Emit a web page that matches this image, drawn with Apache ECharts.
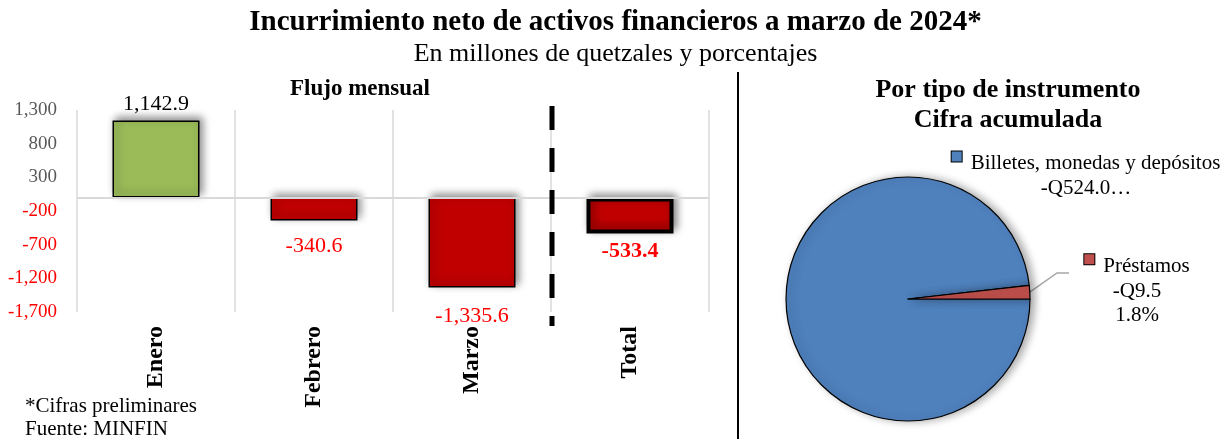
<!DOCTYPE html>
<html><head><meta charset="utf-8">
<script src="https://cdn.jsdelivr.net/npm/echarts@6/dist/echarts.min.js"></script>
<style>html,body{margin:0;padding:0;background:#fff}#c{width:1231px;height:439px}</style>
</head><body><div id="c"></div>
<script>
// ---- data ----
const categories = ['Enero', 'Febrero', 'Marzo', 'Total'];
const flows = [1142.9, -340.6, -1335.6, -533.4];
const yMin = -1700, yMax = 1300, yStep = 500;
const pieNames = ['Billetes, monedas y depósitos', 'Préstamos'];
const pieValues = [-524.0, -9.5];
const pieValueText = ['-Q524.0…', '-Q9.5'];

// ---- styles ----
const SERIF = '"Liberation Serif", "Times New Roman", serif';
const labelGap = [5, 15, 18, 7];
const borderW = [1.5, 1.5, 1.5, 4];
const fmt = v => v.toLocaleString('en-US', {minimumFractionDigits: 1, maximumFractionDigits: 1});
const fmtTick = v => v.toLocaleString('en-US');

const chart = echarts.init(document.getElementById('c'));
const shadow = {shadowBlur: 8, shadowColor: 'rgba(0,0,0,0.45)', shadowOffsetX: 3, shadowOffsetY: -3};

chart.setOption({
  animation: false,
  title: [
    {text: 'Incurrimiento neto de activos financieros a marzo de 2024*', left: 'center', top: 3,
     textStyle: {fontFamily: SERIF, fontSize: 29, fontWeight: 'bold', color: '#000'}},
    {text: 'En millones de quetzales y porcentajes', left: 'center', top: 36,
     textStyle: {fontFamily: SERIF, fontSize: 26, fontWeight: 'normal', color: '#000'}},
    {text: 'Flujo mensual', left: 355, textAlign: 'center', top: 73,
     textStyle: {fontFamily: SERIF, fontSize: 23, fontWeight: 'bold', color: '#000'}},
    {text: 'Por tipo de instrumento\nCifra acumulada', left: 1003, textAlign: 'center', top: 70,
     textStyle: {fontFamily: SERIF, fontSize: 26, fontWeight: 'bold', color: '#000', lineHeight: 30}},
    {text: '*Cifras preliminares\nFuente: MINFIN', left: 20, top: 390,
     textStyle: {fontFamily: SERIF, fontSize: 21, fontWeight: 'normal', color: '#000', lineHeight: 23}}
  ],
  grid: {left: 77, right: 522, top: 110, bottom: 127, containLabel: false},
  xAxis: {
    type: 'category', data: categories,
    axisLine: {show: false}, axisTick: {show: false},
    splitLine: {show: true, lineStyle: {color: '#D9D9D9', width: 1.5}},
    axisLabel: {rotate: 90, margin: 14, fontFamily: SERIF, fontSize: 24, fontWeight: 'bold', color: '#000'}
  },
  yAxis: {
    type: 'value', min: yMin, max: yMax, interval: yStep,
    axisLine: {show: false}, axisTick: {show: false}, splitLine: {show: false},
    axisLabel: {margin: 20, fontFamily: SERIF, fontSize: 19, formatter: fmtTick,
      color: v => (v < 0 ? '#FF0000' : '#595959')}
  },
  series: [
    {
      type: 'bar', barWidth: 87,
      data: flows.map((v, i) => ({
        value: v,
        itemStyle: Object.assign({color: v >= 0 ? '#9BBB59' : '#C00000', borderColor: '#000', borderWidth: borderW[i]}, shadow),
        label: {
          show: true, position: v >= 0 ? 'top' : 'bottom', distance: labelGap[i],
          formatter: fmt(v), fontFamily: SERIF, fontSize: 22,
          fontWeight: categories[i] === 'Total' ? 'bold' : 'normal',
          color: v >= 0 ? '#000' : '#FF0000'
        }
      })),
      markLine: {
        silent: true, symbol: 'none', label: {show: false},
        lineStyle: {color: '#D9D9D9', width: 2, type: 'solid'},
        data: [{yAxis: 0}]
      },
      z: 3
    },
    {
      type: 'pie', center: [908, 299], radius: 122, startAngle: 0, clockwise: true,
      itemStyle: {borderColor: '#000', borderWidth: 1.2, shadowBlur: 9, shadowColor: 'rgba(0,0,0,0.35)', shadowOffsetX: 4, shadowOffsetY: 0},
      data: pieNames.map((n, i) => ({
        name: n, value: Math.abs(pieValues[i]),
        itemStyle: {color: i === 0 ? '#4F81BD' : '#C0504D'},
        labelLine: {show: i === 1, length: 20, length2: 10, lineStyle: {color: '#A6A6A6', width: 1.5}}
      })),
      label: {
        show: true, position: 'outside', fontFamily: SERIF, fontSize: 21, color: '#000', lineHeight: 24.5, align: 'center',
        formatter: p => {
          const key = p.dataIndex === 0 ? 'sqb' : 'sqr';
          const lines = ['{' + key + '|}{g| }' + p.name, pieValueText[p.dataIndex]];
          if (p.dataIndex === 1) lines.push(p.percent.toFixed(1) + '%');
          return lines.join('\n');
        },
        rich: {
          sqb: {width: 10, height: 10, backgroundColor: '#4F81BD', borderColor: '#000', borderWidth: 1, verticalAlign: 'top'},
          sqr: {width: 10, height: 10, backgroundColor: '#C0504D', borderColor: '#000', borderWidth: 1, verticalAlign: 'top'},
          g: {width: 9}
        }
      },
      labelLayout: p => {
        if (p.dataIndex === 0) return {x: 1086, y: 176, align: 'center', verticalAlign: 'middle'};
        const lx = 1137, ly = 291;
        const start = (p.labelLinePoints && p.labelLinePoints[0]) || [1032, 288];
        return {x: lx, y: ly, align: 'center', verticalAlign: 'middle',
          labelLinePoints: [start, [lx - 80, ly - 18], [lx - 68, ly - 18]]};
      }
    }
  ],
  graphic: [
    {type: 'line', shape: {x1: 738, y1: 72, x2: 738, y2: 439}, style: {stroke: '#000', lineWidth: 2}}
  ]
});

// dashed separator between Marzo and Total, located from the axis scale
const cM = chart.convertToPixel({xAxisIndex: 0}, 'Marzo');
const cT = chart.convertToPixel({xAxisIndex: 0}, 'Total');
const xs = (cM + cT) / 2 + 1;
chart.setOption({
  graphic: [
    {type: 'line', shape: {x1: 738, y1: 72, x2: 738, y2: 439}, style: {stroke: '#000', lineWidth: 2}},
    {type: 'line', shape: {x1: xs, y1: 106, x2: xs, y2: 326}, style: {stroke: '#000', lineWidth: 5, lineDash: [24, 18]}, z: 10}
  ]
});
</script></body></html>
